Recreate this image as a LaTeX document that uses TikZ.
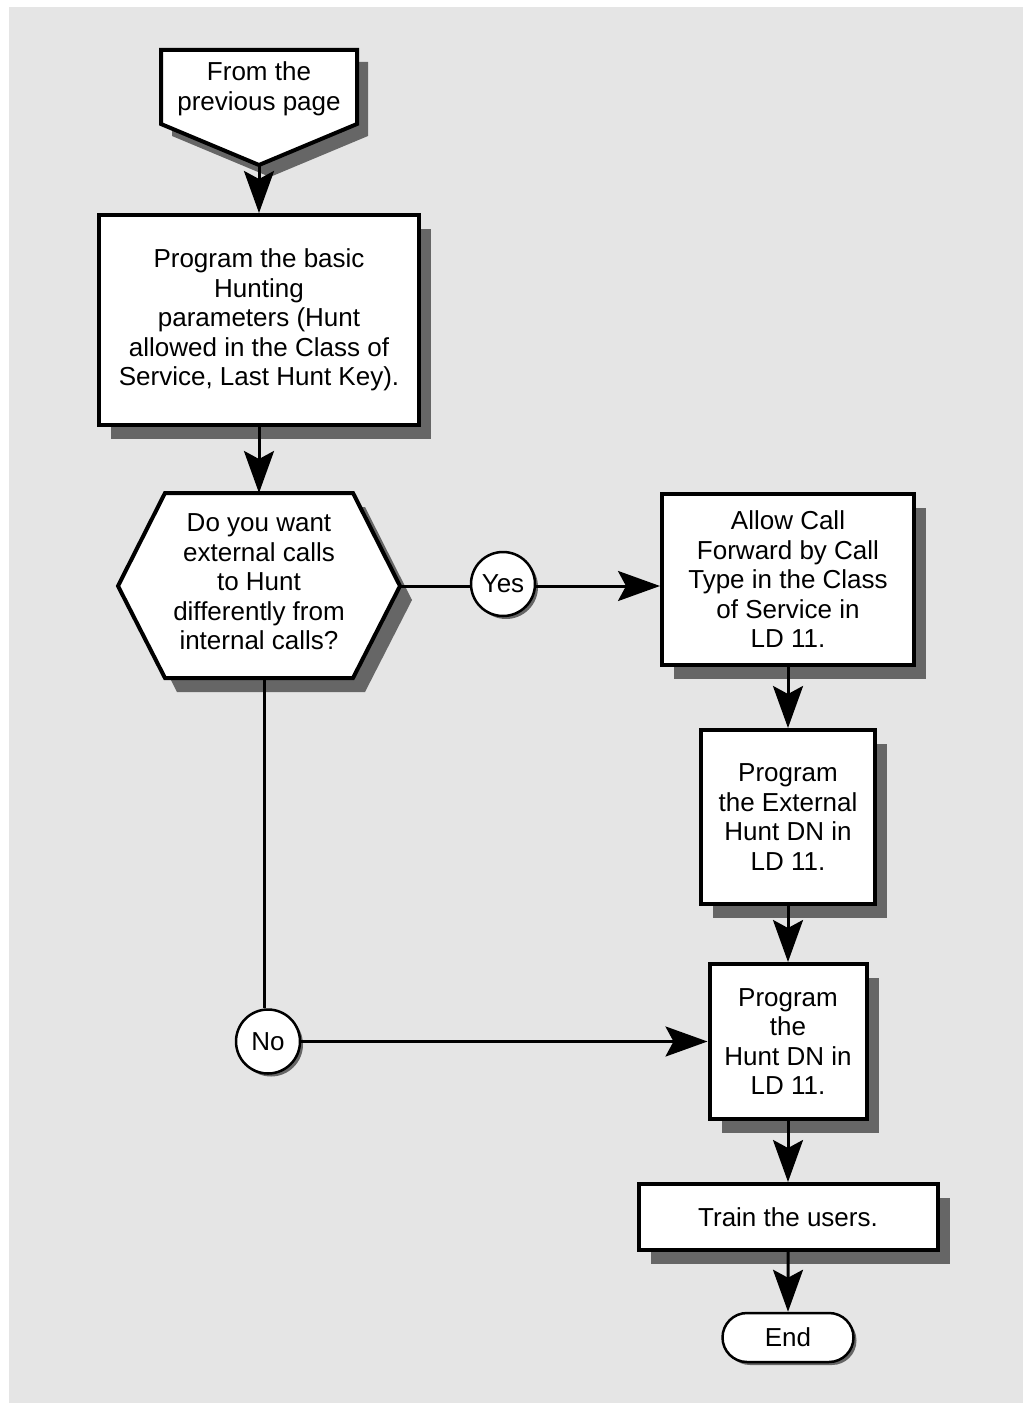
\documentclass[tikz,border=0pt]{standalone}
\usepackage{fontspec}
\setmainfont{Liberation Sans}
\usetikzlibrary{arrows.meta,positioning,shapes.misc,shadows}
\definecolor{bggrey}{RGB}{229,229,229}
\definecolor{shadowgrey}{RGB}{102,102,102}

\begin{document}
\begin{tikzpicture}[x=1pt, y=-1pt, font=\fontsize{26}{29.5}\selectfont,
    every node/.style={align=center, inner sep=0pt},
    stepbox/.style={draw, line width=4pt, fill=white,
      drop shadow={shadow xshift=12pt, shadow yshift=-14pt, fill=shadowgrey, opacity=1}},
    answer/.style={circle, draw, line width=2.5pt, fill=white, minimum size=64pt,
      drop shadow={shadow xshift=3pt, shadow yshift=-3pt, fill=shadowgrey, opacity=1}},
    flow/.style={line width=3pt, -{Stealth[length=42pt,width=30pt,inset=8pt]}},
    link/.style={line width=3pt}]
  \fill[bggrey] (9,7) rectangle (1023,1403);
  \useasboundingbox (0,0) rectangle (1025,1404);

  % off-page connector
  \fill[shadowgrey, shift={(11,12)}] (161,50) -- (357,50) -- (357,124) -- (259,165) -- (161,124) -- cycle;
  \draw[line width=4pt, fill=white] (161,50) -- (357,50) -- (357,124) -- (259,165) -- (161,124) -- cycle;
  \node (prev) at (259,89) {From the\\previous page};
  \coordinate (prevtip) at (259,165);

  \node[stepbox, minimum width=320pt, minimum height=210pt] (basic) at (259,320)
    {Program the basic\\Hunting\\parameters (Hunt\\allowed in the Class of\\Service, Last Hunt Key).};

  % decision
  \fill[shadowgrey, shift={(12,14)}] (165,493) -- (353,493) -- (400,586) -- (353,678) -- (165,678) -- (118,586) -- cycle;
  \draw[line width=4pt, fill=white] (165,493) -- (353,493) -- (400,586) -- (353,678) -- (165,678) -- (118,586) -- cycle;
  \node (ask) at (259,582) {Do you want\\external calls\\to Hunt\\differently from\\internal calls?};
  \coordinate (askN) at (259,493);
  \coordinate (askE) at (400,586);
  \coordinate (askS) at (264,678);

  \node[answer] (yes) at (503,584) {Yes};
  \node[answer] (no) at (268,1041.5) {No};

  \node[stepbox, minimum width=252pt, minimum height=171pt] (allow) at (788,579.5)
    {Allow Call\\Forward by Call\\Type in the Class\\of Service in\\LD 11.};
  \node[stepbox, minimum width=174pt, minimum height=174pt] (external) at (788,817)
    {Program\\the External\\Hunt DN in\\LD 11.};
  \node[stepbox, minimum width=157pt, minimum height=155pt] (huntdn) at (788,1041.5)
    {Program\\the\\Hunt DN in\\LD 11.};
  \node[stepbox, minimum width=299pt, minimum height=66pt] (train) at (788,1217) {Train the users.};
  \node[rounded rectangle, draw, line width=2.5pt, fill=white, minimum width=131pt, minimum height=49pt,
    drop shadow={shadow xshift=3pt, shadow yshift=-3pt, fill=shadowgrey, opacity=1}] (end) at (788,1337.5) {End};

  \draw[flow] (prevtip) -- (basic);
  \draw[flow] (basic) -- (askN);
  \draw[link] (askE) -- (askE -| yes.west);
  \draw[flow] (yes.east |- askE) -- (askE -| allow.west);
  \draw[flow] (allow) -- (external);
  \draw[flow] (external) -- (huntdn);
  \draw[link] (askS) -- (askS |- no.north);
  \draw[flow] (no) -- (huntdn);
  \draw[flow] (huntdn) -- (train);
  \draw[flow] (train) -- (end);
\end{tikzpicture}
\end{document}
